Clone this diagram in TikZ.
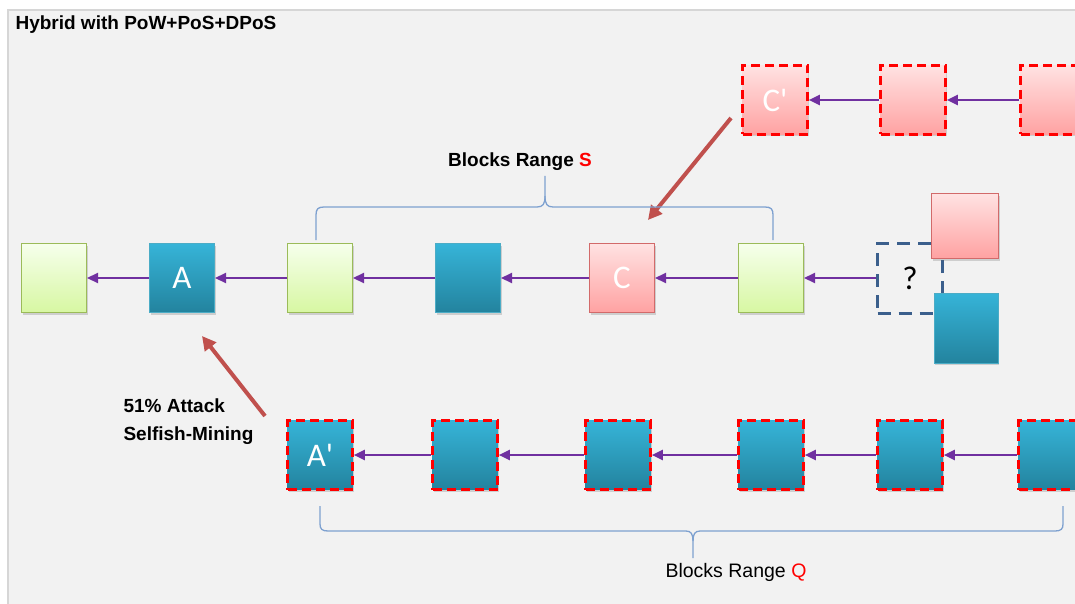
\documentclass[tikz,border=0pt]{standalone}
\usepackage{fontspec}
\setmainfont{Liberation Sans}
\newfontfamily\blkfont{Carlito}
\usetikzlibrary{arrows.meta,shadows}

\definecolor{panel}{HTML}{F2F2F2}
\definecolor{panelline}{HTML}{D6D6D6}
\definecolor{bluetop}{HTML}{36B4D8}
\definecolor{bluebot}{HTML}{23839E}
\definecolor{blueedge}{HTML}{4BACC6}
\definecolor{greentop}{HTML}{F6FFEC}
\definecolor{greenbot}{HTML}{D7F7A2}
\definecolor{greenedge}{HTML}{9BBB59}
\definecolor{redtop}{HTML}{FFE2E2}
\definecolor{redbot}{HTML}{FFA2A2}
\definecolor{rededge}{HTML}{D26A6A}
\definecolor{chain}{HTML}{7030A0}
\definecolor{callout}{HTML}{C0504D}
\definecolor{bracec}{HTML}{7EA1D0}
\definecolor{qbox}{HTML}{3B5F8C}

\tikzset{
  blk/.style={minimum width=65pt, minimum height=69pt, inner sep=0pt, line width=1pt,
    drop shadow={shadow xshift=1pt, shadow yshift=-2pt, opacity=0.25, fill=black!60},
    font=\blkfont\fontsize{33}{36}\selectfont, text=white},
  blueblk/.style={blk, top color=bluetop, bottom color=bluebot, draw=blueedge},
  greenblk/.style={blk, top color=greentop, bottom color=greenbot, draw=greenedge},
  redblk/.style={blk, top color=redtop, bottom color=redbot, draw=rededge},
  forked/.style={draw=red, line width=2.6pt, dash pattern=on 9pt off 5pt},
  link/.style={draw=chain, line width=2.2pt, -{Triangle[length=11pt,width=10pt]}},
  attack/.style={draw=callout, line width=4pt, -{Triangle[length=14pt,width=14pt]}},
  brace/.style={draw=bracec, line width=1.3pt},
  qmark/.style={draw=qbox, line width=3pt, dash pattern=on 13pt off 8pt,
    minimum width=65pt, minimum height=70pt, inner sep=0pt,
    font=\blkfont\fontsize{33}{36}\selectfont, text=black},
  boldlabel/.style={font=\bfseries\fontsize{19}{28}\selectfont, text=black},
  plainlabel/.style={font=\fontsize{19.5}{24}\selectfont, text=black}
}

\begin{document}
\begin{tikzpicture}[x=1pt,y=-1pt]
  \useasboundingbox (0,0) rectangle (1075,604);
  \clip (0,0) rectangle (1075,604);

  % background panel
  \fill[panel] (8,10) rectangle (1075,604);
  \draw[panelline, line width=1.2pt] (8,604) -- (8,10) -- (1075,10);

  % title
  \node[boldlabel, anchor=west] (title) at (12,25) {Hybrid with PoW+PoS+DPoS};

  % main chain
  \node[greenblk] (m1) at (54,278) {};
  \node[blueblk]  (mA) at (182,278) {A};
  \node[greenblk] (m3) at (320,278) {};
  \node[blueblk]  (m4) at (468,278) {};
  \node[redblk]   (mC) at (622,278) {C};
  \node[greenblk] (m6) at (771,278) {};

  % undecided next block
  \node[qmark] (q) at (910,278) {?};
  \node[redblk, minimum height=65pt, minimum width=67pt] (qr) at (965,226) {};
  \node[blueblk, minimum height=70pt, minimum width=64pt] (qb) at (966,328) {};

  \draw[link] (mA.west) -- (m1.east);
  \draw[link] (m3.west) -- (mA.east);
  \draw[link] (m4.west) -- (m3.east);
  \draw[link] (mC.west) -- (m4.east);
  \draw[link] (m6.west) -- (mC.east);
  \draw[link] (q.west) -- (m6.east);

  % upper fork
  \node[redblk, forked] (t1) at (775,100) {C'};
  \node[redblk, forked] (t2) at (913,100) {};
  \node[redblk, forked] (t3) at (1053,100) {};
  \draw[link] (t2.west) -- (t1.east);
  \draw[link] (t3.west) -- (t2.east);

  % lower fork
  \node[blueblk, forked] (b1) at (320,455) {A'};
  \node[blueblk, forked] (b2) at (465,455) {};
  \node[blueblk, forked] (b3) at (618,455) {};
  \node[blueblk, forked] (b4) at (771,455) {};
  \node[blueblk, forked] (b5) at (910,455) {};
  \node[blueblk, forked] (b6) at (1051,455) {};
  \draw[link] (b2.west) -- (b1.east);
  \draw[link] (b3.west) -- (b2.east);
  \draw[link] (b4.west) -- (b3.east);
  \draw[link] (b5.west) -- (b4.east);
  \draw[link] (b6.west) -- (b5.east);

  % attack callouts
  \coordinate (cTail) at (731,118);
  \coordinate (cTip) at (648,220);
  \draw[attack] (cTail) -- (cTip);
  \node[boldlabel, anchor=west, align=left] (atk) at (120,422) {51\% Attack\\Selfish-Mining};
  \coordinate (aTail) at (265,416);
  \coordinate (aTip) at (202,336);
  \draw[attack] (aTail) -- (aTip);

  % range S brace
  \draw[brace] (316,240) -- (316,215) .. controls (316,209) and (318,207) .. (324,207)
    -- (537,207) .. controls (543,207) and (545,204) .. (545,196) -- (545,176);
  \draw[brace] (545,196) .. controls (545,204) and (547,207) .. (553,207)
    -- (765,207) .. controls (771,207) and (773,209) .. (773,215) -- (773,240);
  \node[boldlabel] (srange) at (520,162) {Blocks Range \textcolor{red}{S}};

  % range Q brace
  \draw[brace] (320,506) -- (320,524) .. controls (320,529) and (322,531) .. (328,531)
    -- (686,531) .. controls (691,531) and (693,534) .. (693,541) -- (693,558);
  \draw[brace] (693,541) .. controls (693,534) and (695,531) .. (700,531)
    -- (1055,531) .. controls (1061,531) and (1063,529) .. (1063,524) -- (1063,506);
  \node[plainlabel] (qrange) at (736,572) {Blocks Range \textcolor{red}{Q}};
\end{tikzpicture}
\end{document}
